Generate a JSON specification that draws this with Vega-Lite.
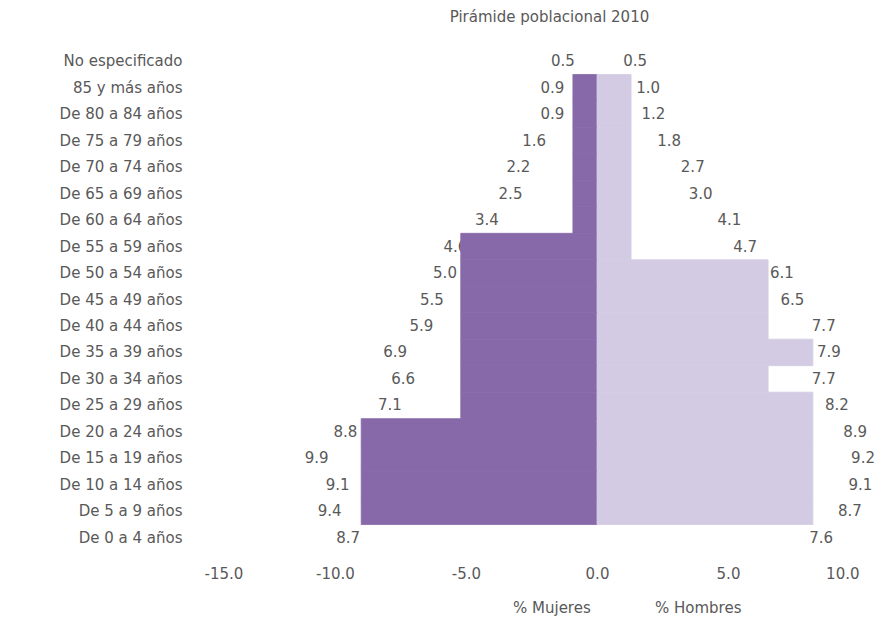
{
  "$schema": "https://vega.github.io/schema/vega-lite/v6.json",
  "width": 655,
  "height": 503,
  "autosize": {"type": "none"},
  "padding": {"left": 204, "top": 48, "right": 30, "bottom": 71},
  "title": {"text": "Pirámide poblacional 2010", "fontSize": 15, "font": "DejaVu Sans", "fontWeight": "normal", "color": "#595959", "offset": 23, "anchor": "middle", "dx": 18},
  "config": {
    "view": {"stroke": null},
    "font": "DejaVu Sans",
    "locale": {"number": {"decimal": ".", "thousands": ",", "grouping": [3], "currency": ["$", ""], "minus": "-"}},
    "legend": {"orient": "none", "legendX": 294, "legendY": 552, "direction": "horizontal", "symbolSize": 0, "symbolOpacity": 0, "labelOffset": 0, "columnPadding": 49, "labelFontSize": 15, "labelColor": "#595959", "labelFont": "DejaVu Sans"}
  },
  "data": {"values": [
    {"grupo": "No especificado", "sexo": "% Mujeres", "valor": 0.5, "barra": null},
    {"grupo": "No especificado", "sexo": "% Hombres", "valor": 0.5, "barra": null},
    {"grupo": "85 y más años", "sexo": "% Mujeres", "valor": 0.9, "barra": -0.92},
    {"grupo": "85 y más años", "sexo": "% Hombres", "valor": 1.0, "barra": 1.3},
    {"grupo": "De 80 a 84 años", "sexo": "% Mujeres", "valor": 0.9, "barra": -0.92},
    {"grupo": "De 80 a 84 años", "sexo": "% Hombres", "valor": 1.2, "barra": 1.3},
    {"grupo": "De 75 a 79 años", "sexo": "% Mujeres", "valor": 1.6, "barra": -0.92},
    {"grupo": "De 75 a 79 años", "sexo": "% Hombres", "valor": 1.8, "barra": 1.3},
    {"grupo": "De 70 a 74 años", "sexo": "% Mujeres", "valor": 2.2, "barra": -0.92},
    {"grupo": "De 70 a 74 años", "sexo": "% Hombres", "valor": 2.7, "barra": 1.3},
    {"grupo": "De 65 a 69 años", "sexo": "% Mujeres", "valor": 2.5, "barra": -0.92},
    {"grupo": "De 65 a 69 años", "sexo": "% Hombres", "valor": 3.0, "barra": 1.3},
    {"grupo": "De 60 a 64 años", "sexo": "% Mujeres", "valor": 3.4, "barra": -0.92},
    {"grupo": "De 60 a 64 años", "sexo": "% Hombres", "valor": 4.1, "barra": 1.3},
    {"grupo": "De 55 a 59 años", "sexo": "% Mujeres", "valor": 4.6, "barra": -5.2},
    {"grupo": "De 55 a 59 años", "sexo": "% Hombres", "valor": 4.7, "barra": 1.3},
    {"grupo": "De 50 a 54 años", "sexo": "% Mujeres", "valor": 5.0, "barra": -5.2},
    {"grupo": "De 50 a 54 años", "sexo": "% Hombres", "valor": 6.1, "barra": 6.53},
    {"grupo": "De 45 a 49 años", "sexo": "% Mujeres", "valor": 5.5, "barra": -5.2},
    {"grupo": "De 45 a 49 años", "sexo": "% Hombres", "valor": 6.5, "barra": 6.53},
    {"grupo": "De 40 a 44 años", "sexo": "% Mujeres", "valor": 5.9, "barra": -5.2},
    {"grupo": "De 40 a 44 años", "sexo": "% Hombres", "valor": 7.7, "barra": 6.53},
    {"grupo": "De 35 a 39 años", "sexo": "% Mujeres", "valor": 6.9, "barra": -5.2},
    {"grupo": "De 35 a 39 años", "sexo": "% Hombres", "valor": 7.9, "barra": 8.24},
    {"grupo": "De 30 a 34 años", "sexo": "% Mujeres", "valor": 6.6, "barra": -5.2},
    {"grupo": "De 30 a 34 años", "sexo": "% Hombres", "valor": 7.7, "barra": 6.53},
    {"grupo": "De 25 a 29 años", "sexo": "% Mujeres", "valor": 7.1, "barra": -5.2},
    {"grupo": "De 25 a 29 años", "sexo": "% Hombres", "valor": 8.2, "barra": 8.24},
    {"grupo": "De 20 a 24 años", "sexo": "% Mujeres", "valor": 8.8, "barra": -9.0},
    {"grupo": "De 20 a 24 años", "sexo": "% Hombres", "valor": 8.9, "barra": 8.24},
    {"grupo": "De 15 a 19 años", "sexo": "% Mujeres", "valor": 9.9, "barra": -9.0},
    {"grupo": "De 15 a 19 años", "sexo": "% Hombres", "valor": 9.2, "barra": 8.24},
    {"grupo": "De 10 a 14 años", "sexo": "% Mujeres", "valor": 9.1, "barra": -9.0},
    {"grupo": "De 10 a 14 años", "sexo": "% Hombres", "valor": 9.1, "barra": 8.24},
    {"grupo": "De 5 a 9 años", "sexo": "% Mujeres", "valor": 9.4, "barra": -9.0},
    {"grupo": "De 5 a 9 años", "sexo": "% Hombres", "valor": 8.7, "barra": 8.24},
    {"grupo": "De 0 a 4 años", "sexo": "% Mujeres", "valor": 8.7, "barra": null},
    {"grupo": "De 0 a 4 años", "sexo": "% Hombres", "valor": 7.6, "barra": null}
  ]},
  "encoding": {
    "y": {
      "field": "grupo", "type": "nominal",
      "sort": ["No especificado", "85 y más años", "De 80 a 84 años", "De 75 a 79 años", "De 70 a 74 años", "De 65 a 69 años", "De 60 a 64 años", "De 55 a 59 años", "De 50 a 54 años", "De 45 a 49 años", "De 40 a 44 años", "De 35 a 39 años", "De 30 a 34 años", "De 25 a 29 años", "De 20 a 24 años", "De 15 a 19 años", "De 10 a 14 años", "De 5 a 9 años", "De 0 a 4 años"],
      "scale": {"paddingInner": 0, "paddingOuter": 0},
      "axis": {"title": null, "ticks": false, "domain": false, "grid": false, "labelPadding": 22, "labelFontSize": 15, "labelColor": "#595959", "labelLimit": 300, "labelFont": "DejaVu Sans"}
    }
  },
  "layer": [
    {
      "transform": [{"filter": "datum.sexo === '% Mujeres'"}],
      "mark": {"type": "text", "fontSize": 15, "color": "#595959", "align": "center", "baseline": "middle", "dx": -21},
      "encoding": {
        "x": {"field": "valor", "type": "quantitative", "scale": {"domain": [-10, 15], "reverse": true, "nice": false, "zero": false}, "axis": null},
        "text": {"field": "valor", "type": "quantitative", "format": ".1f"}
      }
    },
    {
      "transform": [{"filter": "datum.sexo === '% Hombres'"}],
      "mark": {"type": "text", "fontSize": 15, "color": "#595959", "align": "center", "baseline": "middle", "dx": 25},
      "encoding": {
        "x": {"field": "valor", "type": "quantitative", "scale": {"domain": [-15, 10], "nice": false, "zero": false}, "axis": null},
        "text": {"field": "valor", "type": "quantitative", "format": ".1f"}
      }
    },
    {
      "mark": {"type": "bar", "strokeWidth": 0.8, "invalid": "filter"},
      "encoding": {
        "x": {"field": "barra", "type": "quantitative", "scale": {"domain": [-15, 10], "nice": false}, "axis": {"title": null, "values": [-15, -10, -5, 0, 5, 10], "format": ".1f", "ticks": false, "domain": false, "grid": false, "labelPadding": 15, "labelFontSize": 15, "labelColor": "#595959", "labelFont": "DejaVu Sans"}},
        "color": {"field": "sexo", "type": "nominal", "scale": {"domain": ["% Mujeres", "% Hombres"], "range": ["#8769AA", "#D3CBE3"]}, "legend": {"title": null}},
        "stroke": {"field": "sexo", "type": "nominal", "scale": {"domain": ["% Mujeres", "% Hombres"], "range": ["#8769AA", "#D3CBE3"]}, "legend": null}
      }
    }
  ],
  "resolve": {"scale": {"x": "independent"}}
}
